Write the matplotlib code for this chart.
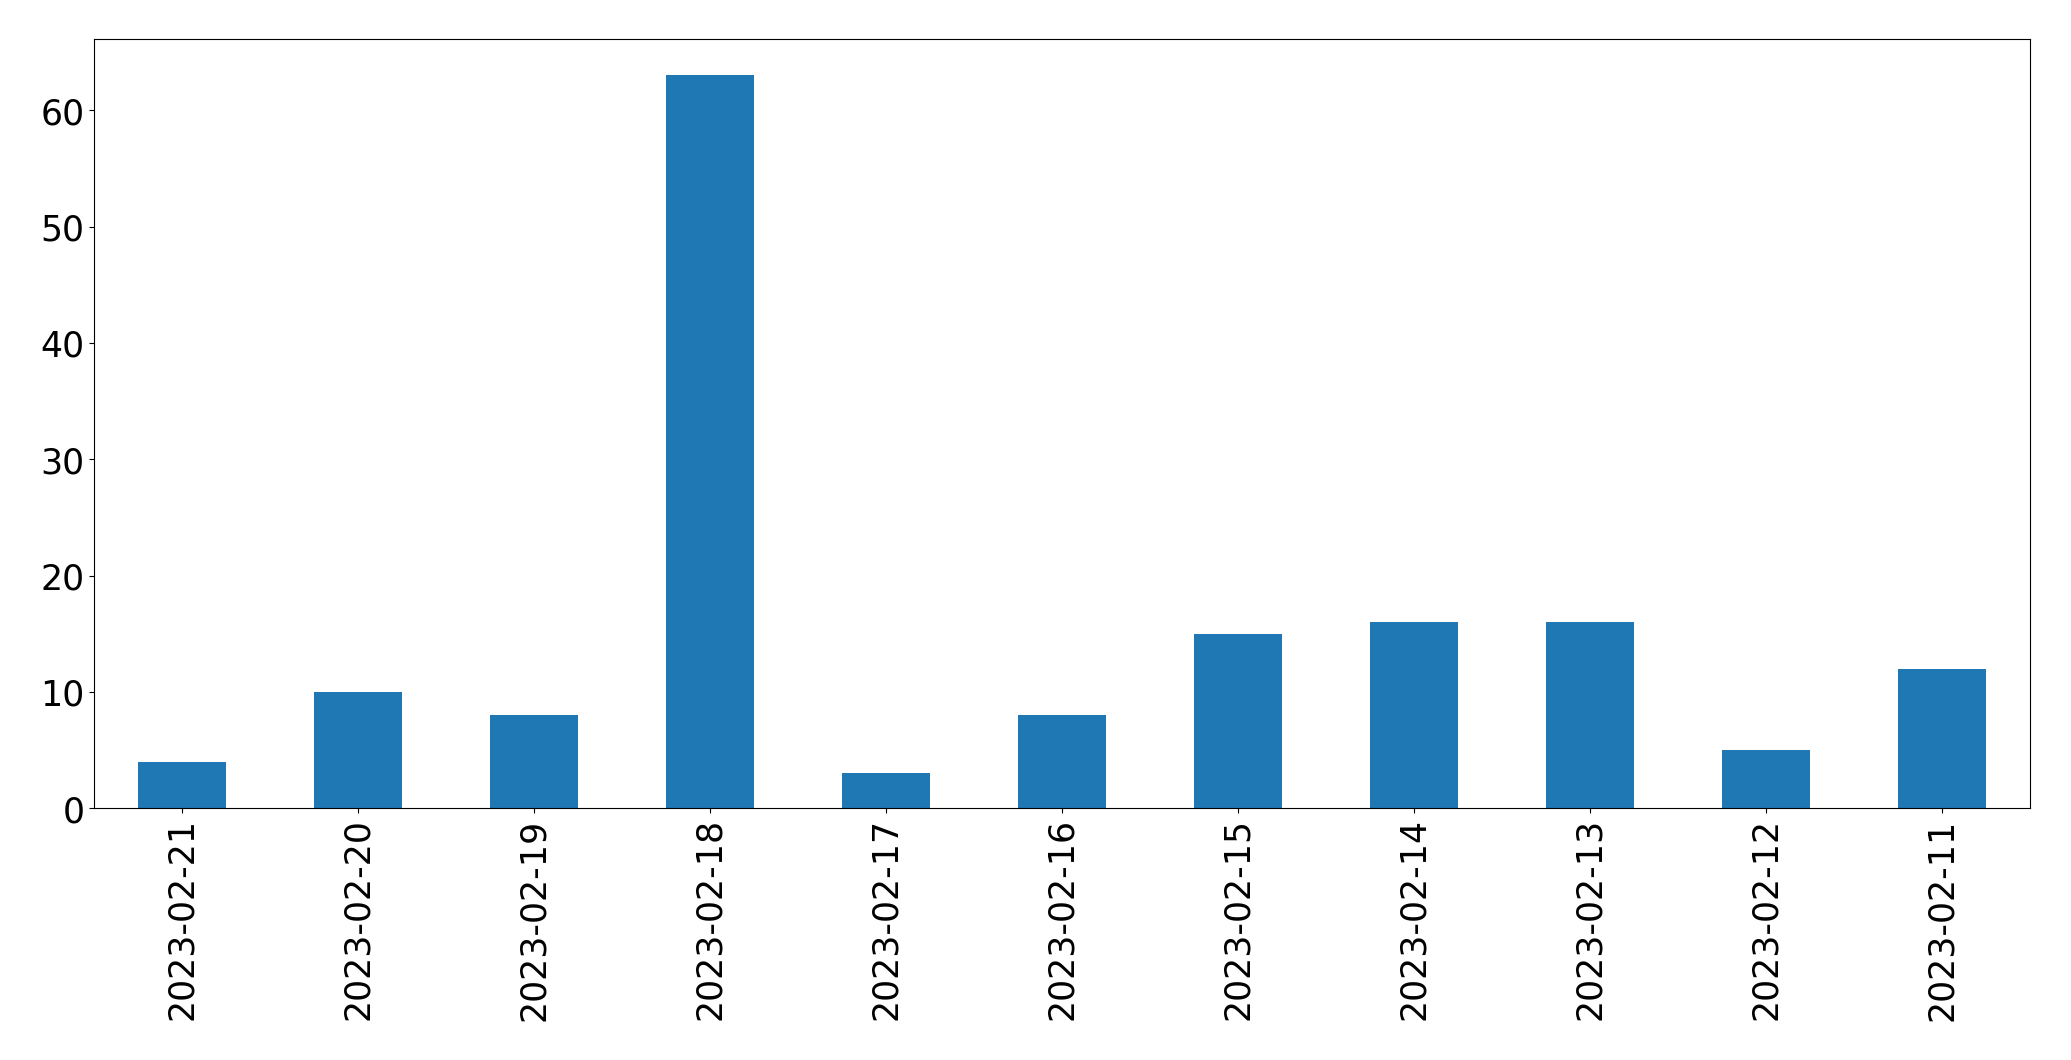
import matplotlib
matplotlib.use("Agg")
import matplotlib.pyplot as plt
import pandas as pd

dates = ["2023-02-21", "2023-02-20", "2023-02-19", "2023-02-18", "2023-02-17",
         "2023-02-16", "2023-02-15", "2023-02-14", "2023-02-13", "2023-02-12",
         "2023-02-11"]
counts = [4, 10, 8, 63, 3, 8, 15, 16, 16, 5, 12]

series = pd.Series(counts, index=dates)

fig, ax = plt.subplots(figsize=(20.71, 10.605), dpi=100)
series.plot(kind="bar", ax=ax, color="#1f77b4")
ax.tick_params(axis="both", labelsize=25)
fig.subplots_adjust(left=0.0454, right=0.9802, top=0.963, bottom=0.2375)
fig.savefig("out.png", dpi=100)
